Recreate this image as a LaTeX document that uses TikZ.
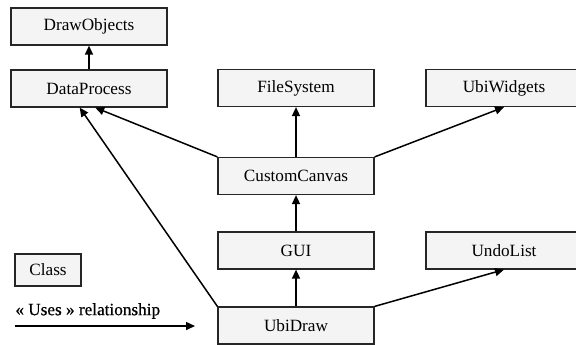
\documentclass[tikz,border=0pt]{standalone}
\usepackage{fontspec}
\setmainfont{Liberation Serif}
\newfontfamily\legendfont[FakeBold=0.6]{Liberation Serif}
\usetikzlibrary{arrows.meta}
\definecolor{boxfill}{RGB}{244,244,244}
\tikzset{
    classbox/.style={draw=black!85, fill=boxfill, line width=0.6pt,
        minimum width=78pt, minimum height=18.5pt, inner sep=0pt,
        font=\fontsize{8.6}{10}\selectfont},
    uses/.style={line width=0.75pt, -{Triangle[length=4.5pt,width=4pt]}}
}
\begin{document}
\begin{tikzpicture}[x=0.5pt,y=-0.5pt]
    \useasboundingbox (0,0) rectangle (576,344);
    % classes
    \node[classbox] (drawobjects) at (89,26.5) {DrawObjects};
    \node[classbox] (dataprocess) at (89,88.5) {DataProcess};
    \node[classbox] (filesystem) at (296,88) {FileSystem};
    \node[classbox] (ubiwidgets) at (504,88) {UbiWidgets};
    \node[classbox] (customcanvas) at (296,176) {CustomCanvas};
    \node[classbox] (gui) at (296,250.5) {GUI};
    \node[classbox] (undolist) at (504,250.5) {UndoList};
    \node[classbox] (ubidraw) at (296,325.5) {UbiDraw};
    % legend
    \node[classbox, minimum width=33pt, minimum height=16pt] (class) at (48,270) {Class};
    \node[anchor=west, inner sep=0pt, font=\fontsize{8.6}{10}\selectfont\legendfont]
        (useslabel) at (15,311) {« Uses » relationship};
    \coordinate (usesstart) at (15,326);
    \coordinate (usesend) at (195,326);
    \draw[uses] (usesstart) -- (usesend);
    % relationships
    \draw[uses] (dataprocess.north) -- (drawobjects.south);
    \draw[uses] (customcanvas.north west) -- (dataprocess.-72);
    \draw[uses] (ubidraw.north west) -- (dataprocess.-116);
    \draw[uses] (customcanvas.north) -- (filesystem.south);
    \draw[uses] (customcanvas.north east) -- (ubiwidgets.south);
    \draw[uses] (gui.north) -- (customcanvas.south);
    \draw[uses] (ubidraw.north) -- (gui.south);
    \draw[uses] (ubidraw.north east) -- (undolist.south);
\end{tikzpicture}
\end{document}
